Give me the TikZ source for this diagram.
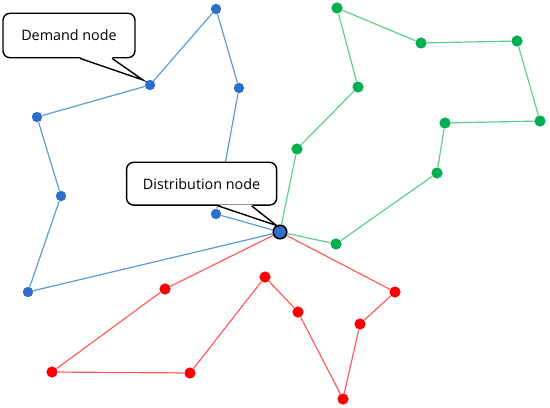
\documentclass[tikz,border=0pt]{standalone}
\usepackage{fontspec}
\setmainfont{Open Sans}
\usetikzlibrary{calc}

\definecolor{bluedot}{HTML}{2E6FCB}
\definecolor{blueline}{HTML}{5B9BD5}
\definecolor{greendot}{HTML}{00B050}
\definecolor{greenline}{HTML}{5CD08A}
\definecolor{reddot}{HTML}{FF0000}
\definecolor{redline}{HTML}{FF5B5B}

\begin{document}
\begin{tikzpicture}[
    x=0.025cm, y=-0.025cm,
    dot/.style={circle, inner sep=0pt, minimum size=0.26cm},
    bluenode/.style={dot, fill=bluedot},
    greennode/.style={dot, fill=greendot, minimum size=0.28cm},
    rednode/.style={dot, fill=reddot, minimum size=0.28cm},
    depot/.style={circle, draw=black, line width=1.1pt, fill=bluedot, inner sep=0pt, minimum size=0.34cm},
    blueroute/.style={draw=blueline, line width=0.85pt},
    greenroute/.style={draw=greenline, line width=0.85pt},
    redroute/.style={draw=redline, line width=0.85pt},
    callout/.style={draw, fill=white, line width=1pt, rounded corners=5pt, font=\fontsize{10.2}{12}\selectfont},
    pointer/.style={draw, line width=1pt}
]
\useasboundingbox (0,0) rectangle (550,407);

% Distribution node
\node[depot] (D) at (280,232) {};

% Blue route
\node[bluenode] (B1) at (216,9) {};
\node[bluenode] (B2) at (239,88) {};
\node[bluenode] (B3) at (150,85) {};
\node[bluenode] (B4) at (37,117) {};
\node[bluenode] (B5) at (61,196) {};
\node[bluenode] (B6) at (28,292) {};
\node[bluenode] (B7) at (216,214) {};

% Green route
\node[greennode] (G1) at (297,149) {};
\node[greennode] (G2) at (358,87) {};
\node[greennode] (G3) at (337,8) {};
\node[greennode] (G4) at (421,43) {};
\node[greennode] (G5) at (517,41) {};
\node[greennode] (G6) at (540,121) {};
\node[greennode] (G7) at (445,123) {};
\node[greennode] (G8) at (437,173) {};
\node[greennode] (G9) at (336,244) {};

% Red route
\node[rednode] (R1) at (165,289) {};
\node[rednode] (R2) at (52,372) {};
\node[rednode] (R3) at (190,373) {};
\node[rednode] (R4) at (265,277) {};
\node[rednode] (R5) at (298,312) {};
\node[rednode] (R6) at (343,399) {};
\node[rednode] (R7) at (360,324) {};
\node[rednode] (R8) at (395,292) {};

% Connections
\foreach \a/\b in {D/B6, B6/B5, B5/B4, B4/B3, B3/B1, B1/B2, B2/B7, B7/D}
    \draw[blueroute] (\a) -- (\b);

\foreach \a/\b in {D/G1, G1/G2, G2/G3, G3/G4, G4/G5, G5/G6, G6/G7, G7/G8, G8/G9, G9/D}
    \draw[greenroute] (\a) -- (\b);

\foreach \a/\b in {D/R1, R1/R2, R2/R3, R3/R4, R4/R5, R5/R6, R6/R7, R7/R8, R8/D}
    \draw[redroute] (\a) -- (\b);

% Callouts
\node[callout, minimum width=3.3cm, minimum height=1.11cm] (demandlbl) at (69,35.5) {Demand node};
\coordinate (demandtip) at (143,80);
\fill[white] ($(demandlbl.south)+(11,-1.2)$) -- (demandtip) -- ($(demandlbl.south)+(43,-1.2)$) -- cycle;
\draw[pointer] ($(demandlbl.south)+(11,0)$) -- (demandtip) -- ($(demandlbl.south)+(43,0)$);

\node[callout, minimum width=3.75cm, minimum height=1.07cm] (distlbl) at (201.6,183.7) {Distribution node};
\coordinate (disttip) at (276.5,225.5);
\fill[white] ($(distlbl.south)+(16.4,-1.2)$) -- (disttip) -- ($(distlbl.south)+(50,-1.2)$) -- cycle;
\draw[pointer] ($(distlbl.south)+(16.4,0)$) -- (disttip) -- ($(distlbl.south)+(50,0)$);

\end{tikzpicture}
\end{document}
